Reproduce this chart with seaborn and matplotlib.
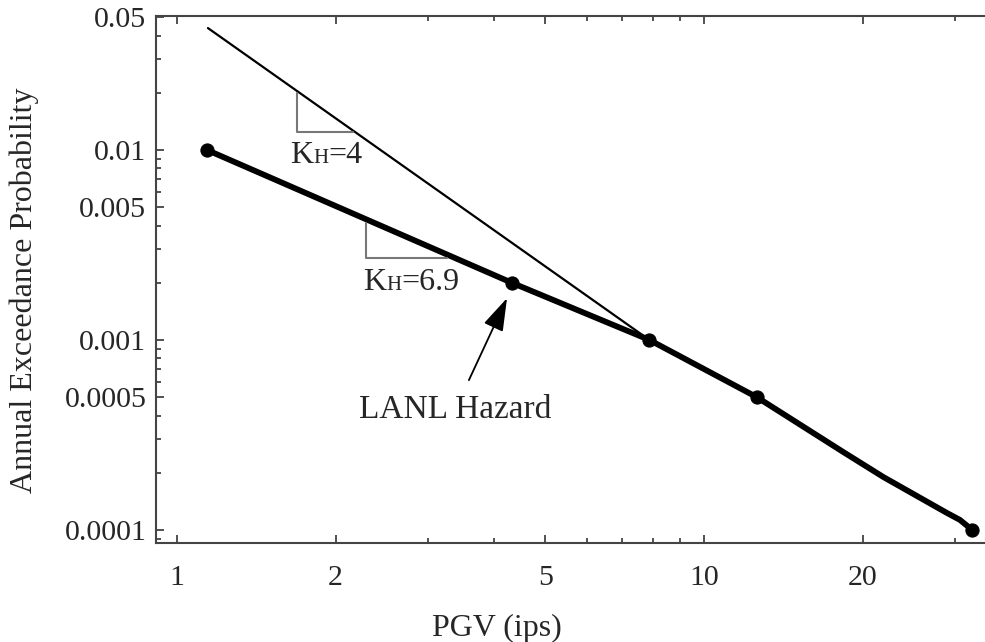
import matplotlib
matplotlib.use('Agg')
import matplotlib.pyplot as plt
from matplotlib.ticker import FixedLocator, FixedFormatter, LogLocator, NullFormatter
from matplotlib.offsetbox import TextArea, HPacker, AnnotationBbox
import seaborn as sns
import pandas as pd

# LANL hazard curve
hazard_pgv = [1.14, 4.32, 7.88, 12.6, 18.35, 21.9, 28.9, 30.6, 32.3]
hazard_prob = [0.01, 0.002, 0.001, 0.0005, 2.58e-4, 1.90e-4, 1.23e-4, 1.13e-4, 1.0e-4]
marked = [0, 1, 2, 3, 8]

# straight line with K_H = 4
line4_pgv = [1.145, 7.88]
line4_prob = [0.0438, 0.001]

# slope triangles
tri4_pgv = [1.69, 1.69, 2.158]
tri4_prob = [0.01995, 0.01245, 0.01245]
tri69_pgv = [2.284, 2.284, 3.253]
tri69_prob = [0.00413, 0.0027, 0.0027]

xticks = [1, 2, 5, 10, 20]
xticklabels = ['1', '2', '5', '10', '20']
yticks = [0.0001, 0.0005, 0.001, 0.005, 0.01, 0.05]
yticklabels = ['0.0001', '0.0005', '0.001', '0.005', '0.01', '0.05']

sns.set_style('ticks')
plt.rcParams['font.family'] = ['Liberation Serif', 'DejaVu Serif']

fig = plt.figure(figsize=(9.85, 6.42), dpi=100)
ax = fig.add_axes([156 / 985, 99 / 642, 834 / 985, 527 / 642])

haz = pd.DataFrame({'pgv': hazard_pgv, 'prob': hazard_prob})
k4 = pd.DataFrame({'pgv': line4_pgv, 'prob': line4_prob})

sns.lineplot(data=k4, x='pgv', y='prob', ax=ax, color='black', lw=1.6,
             sort=False, estimator=None)
sns.lineplot(data=haz, x='pgv', y='prob', ax=ax, color='black', lw=4.2,
             sort=False, estimator=None, marker='o', markersize=9.5,
             markevery=marked, markeredgecolor='black', solid_capstyle='round')

ax.plot(tri4_pgv, tri4_prob, color='#777777', lw=1.5)
ax.plot(tri69_pgv, tri69_prob, color='#777777', lw=1.5)

ax.set_xscale('log')
ax.set_yscale('log')
ax.set_xlim(0.9125, 34.9)
ax.set_ylim(8.54e-5, 0.0507)

ax.xaxis.set_major_locator(FixedLocator(xticks))
ax.xaxis.set_major_formatter(FixedFormatter(xticklabels))
ax.xaxis.set_minor_locator(LogLocator(base=10, subs=range(2, 10), numticks=20))
ax.xaxis.set_minor_formatter(NullFormatter())
ax.yaxis.set_major_locator(FixedLocator(yticks))
ax.yaxis.set_major_formatter(FixedFormatter(yticklabels))
ax.yaxis.set_minor_locator(LogLocator(base=10, subs=range(1, 10), numticks=20))
ax.yaxis.set_minor_formatter(NullFormatter())

ax.tick_params(which='both', direction='in', top=True, right=False,
               color='#333333', width=1.2)
ax.tick_params(which='major', length=6, labelsize=21.5)
ax.tick_params(which='minor', length=3.5)
ax.tick_params(axis='x', which='major', pad=16)
ax.tick_params(axis='y', which='major', pad=7)

for s in ax.spines.values():
    s.set_linewidth(1.5)
    s.set_color('#444444')
ax.spines['right'].set_visible(False)

ax.set_xlabel('PGV (ips)', fontsize=23)
ax.set_ylabel('Annual Exceedance Probability', fontsize=23)
ax.xaxis.set_label_coords((497 - 156) / 834, -0.135)
ax.yaxis.set_label_coords(-0.14, 0.48)


def kh_label(x, y, value):
    parts = [TextArea('K', textprops=dict(fontsize=23)),
             TextArea('H', textprops=dict(fontsize=15)),
             TextArea('=' + value, textprops=dict(fontsize=23))]
    box = HPacker(children=parts, align='baseline', pad=0, sep=0)
    ab = AnnotationBbox(box, (x, y), xycoords='data', frameon=False,
                        box_alignment=(0, 0.5), pad=0)
    ax.add_artist(ab)


kh_label(1.639, 0.0094, '4')
kh_label(2.254, 0.002, '6.9')

ax.annotate('LANL Hazard', xy=(4.23, 0.00166), xytext=(3.37, 4.28e-4),
            xycoords='data', textcoords='data', ha='center', va='center',
            fontsize=24,
            arrowprops=dict(arrowstyle='-|>,head_length=0.85,head_width=0.27',
                            color='black', lw=1.3, shrinkA=9, shrinkB=0))

fig.savefig('out.png', dpi=100)
